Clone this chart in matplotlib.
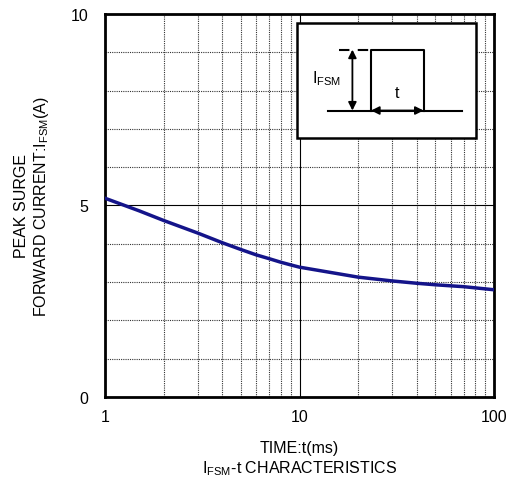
import matplotlib
matplotlib.use("Agg")
import matplotlib.pyplot as plt
from matplotlib.patches import Rectangle

plt.rcParams["font.family"] = ["Liberation Sans", "DejaVu Sans"]
plt.rcParams["mathtext.fontset"] = "custom"
plt.rcParams["mathtext.rm"] = "Liberation Sans"
plt.rcParams["mathtext.it"] = "Liberation Sans"

# values
time_ms = [1, 1.5, 2, 3, 4, 5, 6, 7, 8, 9, 10, 20, 30, 40, 50, 70, 100]
ifsm_a = [5.19, 4.86, 4.61, 4.28, 4.03, 3.85, 3.71, 3.61, 3.52, 3.45, 3.39,
          3.13, 3.03, 2.97, 2.93, 2.88, 2.80]
y_ticks = [0, 5, 10]
x_ticks = [1, 10, 100]

fig = plt.figure(figsize=(5.09, 4.81), dpi=100)
ax = fig.add_axes([105 / 509, 1 - 398 / 481, 389 / 509, 383 / 481])

ax.set_xscale("log")
ax.set_xlim(1, 100)
ax.set_ylim(0, 10)
ax.set_xticks(x_ticks)
ax.set_xticklabels([str(v) for v in x_ticks])
ax.set_yticks(y_ticks)
ax.set_yticks([1, 2, 3, 4, 6, 7, 8, 9], minor=True)
ax.tick_params(which="both", length=0, labelsize=11.5)
ax.tick_params(axis="x", pad=9)
ax.tick_params(axis="y", pad=12)

ax.grid(which="minor", color="#333333", linestyle=(0, (1, 1)), linewidth=0.8)
ax.grid(which="major", color="black", linestyle="-", linewidth=0.8)
for s in ax.spines.values():
    s.set_linewidth(2)

ax.plot(time_ms, ifsm_a, color="#14148a", linewidth=2.5, zorder=3)

ax.set_xlabel("TIME:t(ms)\n$\\mathrm{I_{FSM}}$-t CHARACTERISTICS", fontsize=11.5,
              labelpad=11, linespacing=1.25)
ax.set_ylabel("PEAK SURGE\nFORWARD CURRENT:$\\mathrm{I_{FSM}}$(A)", fontsize=11.5,
              labelpad=14, linespacing=1.25)

# inset waveform sketch
tr = ax.transAxes
ax.add_patch(Rectangle((0.494, 0.676), 0.461, 0.3, transform=tr, facecolor="white",
                       edgecolor="black", linewidth=1.8, zorder=5))
base_y, top_y = 0.748, 0.907
ax.plot([0.572, 0.919], [base_y, base_y], transform=tr, color="black", lw=1.5, zorder=6)
ax.plot([0.684, 0.684, 0.819, 0.819], [base_y, top_y, top_y, base_y], transform=tr,
        color="black", lw=1.5, zorder=6)
ax.plot([0.602, 0.680], [top_y, top_y], transform=tr, color="black", lw=1.5,
        linestyle=(0, (5, 4)), zorder=6)
ax.annotate("", xy=(0.636, top_y), xytext=(0.636, base_y), xycoords=tr, textcoords=tr,
            arrowprops=dict(arrowstyle="<|-|>", color="black", lw=1.3,
                            mutation_scale=12, shrinkA=0, shrinkB=0), zorder=6)
ax.annotate("", xy=(0.684, base_y), xytext=(0.819, base_y), xycoords=tr, textcoords=tr,
            arrowprops=dict(arrowstyle="<|-|>", color="black", lw=1.3,
                            mutation_scale=12, shrinkA=0, shrinkB=0), zorder=6)
ax.text(0.531, 0.835, "$\\mathrm{I_{FSM}}$", transform=tr, fontsize=11.5,
        ha="left", va="center", zorder=6)
ax.text(0.751, 0.795, "t", transform=tr, fontsize=11.5, ha="center", va="center", zorder=6)

fig.savefig("out.png", dpi=100)
